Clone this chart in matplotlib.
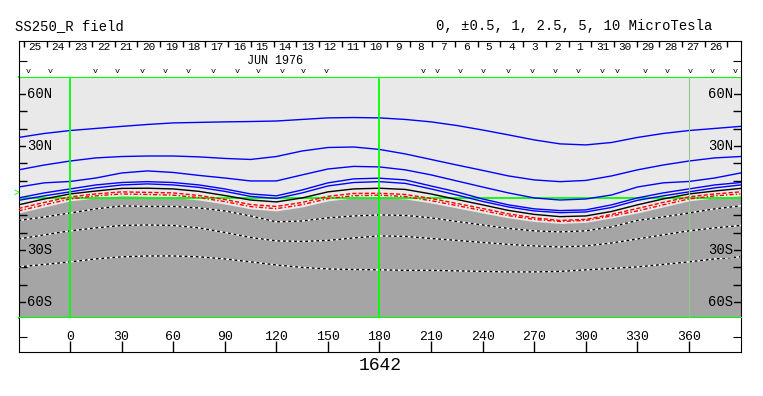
import numpy as np
import matplotlib
matplotlib.use('Agg')
import matplotlib.pyplot as plt

W, H = 763, 396
MONO = 'Liberation Mono'

LIGHT = '#e9e9e9'
DARK = '#a5a5a5'
GREEN = '#00ff00'

# Carrington longitude samples (deg), one full rotation
lon = np.arange(0, 360, 15)

# contour latitudes (deg), top to bottom
blue_1 = [38.9, 40.1, 41.3, 42.4, 43.3, 43.6, 43.9, 44.1, 44.4, 45.3, 46.2, 46.4,
          46.2, 45.3, 43.9, 41.8, 39.2, 36.4, 33.5, 31.2, 30.6, 32.0, 34.9, 37.2]
blue_2 = [21.3, 23.1, 23.9, 24.2, 24.2, 23.7, 22.8, 22.2, 23.9, 27.1, 29.1, 29.4,
          28.0, 25.4, 22.2, 19.0, 15.9, 12.7, 10.4, 9.4, 10.1, 12.7, 16.2, 19.0]
blue_3 = [9.5, 11.5, 14.4, 15.6, 14.7, 13.0, 11.5, 9.8, 9.8, 13.3, 16.7, 18.2,
          17.9, 16.2, 13.3, 9.8, 6.3, 2.9, 0.0, -1.2, -0.6, 1.7, 6.3, 8.7]
blue_4 = [5.2, 7.5, 8.9, 9.4, 8.9, 7.5, 5.2, 2.3, 1.2, 4.6, 8.7, 11.0,
          11.4, 10.4, 6.9, 3.5, -0.6, -4.0, -6.3, -7.3, -6.9, -4.0, 0.0, 2.9]
blue_5 = [3.5, 5.8, 7.5, 8.1, 7.5, 6.1, 3.8, 0.9, -0.3, 2.9, 6.9, 8.9,
          9.4, 8.4, 5.2, 1.7, -2.0, -5.2, -7.5, -8.5, -8.1, -5.5, -1.4, 1.2]
black_0 = [2.3, 4.0, 5.5, 5.6, 5.2, 3.8, 1.4, -1.2, -2.3, 0.0, 3.5, 5.2,
           5.6, 4.9, 2.3, -0.9, -4.0, -7.2, -9.5, -10.8, -10.4, -7.8, -4.0, -0.6]
red_1 = [0.6, 2.3, 3.5, 3.2, 2.9, 1.4, -0.9, -3.8, -4.9, -2.6, 0.9, 2.6,
         2.7, 2.0, -0.3, -3.2, -6.1, -9.2, -11.5, -13.0, -12.4, -9.5, -6.1, -2.6]
red_2 = [-0.6, 1.2, 2.3, 2.0, 1.6, 0.2, -2.1, -5.0, -6.2, -3.9, -0.4, 1.3,
         1.6, 0.8, -1.6, -4.4, -7.3, -10.2, -12.4, -13.6, -13.0, -10.4, -7.5, -4.0]
neutral = [-1.7, 0.0, 1.2, 0.9, 0.3, -1.2, -3.5, -6.3, -7.5, -5.2, -1.7, 0.0,
           0.2, -0.6, -2.9, -5.8, -8.7, -11.5, -13.6, -14.7, -14.1, -11.5, -8.7, -5.2]
neg_1 = [-8.7, -6.3, -4.6, -4.9, -4.9, -5.8, -7.5, -10.4, -13.8, -13.3, -11.5, -10.4,
         -9.8, -10.1, -11.5, -13.6, -15.6, -17.6, -19.0, -19.6, -19.0, -16.7, -13.0, -11.0]
neg_2 = [-19.0, -17.3, -15.9, -15.6, -15.9, -17.3, -19.9, -22.8, -24.8, -25.1, -24.5, -23.1,
         -21.9, -22.2, -23.4, -24.5, -25.7, -26.8, -27.7, -28.3, -27.7, -26.0, -23.7, -21.3]
neg_3 = [-36.9, -35.2, -34.0, -33.5, -33.5, -34.0, -35.2, -36.9, -38.7, -40.1, -41.0, -41.3,
         -41.5, -41.8, -41.8, -42.1, -42.4, -42.7, -42.7, -42.4, -41.5, -40.7, -39.8, -38.4]

# dates along the top (day of month at each 0 UT tick, time runs right to left)
day_labels = [25, 24, 23, 22, 21, 20, 19, 18, 17, 16, 15, 14, 13, 12, 11, 10,
              9, 8, 7, 6, 5, 4, 3, 2, 1, 31, 30, 29, 28, 27, 26]
first_day_lon = -26.8
deg_per_day = 360 / 27.2753

# longitudes of the "v" observation marks
obs_lon = [-24.4, -11.6, 14.5, 27.3, 41.7, 55.3, 68.6, 83.2, 97.0, 109.4, 123.2,
           135.5, 149.3, 205.4, 213.5, 226.9, 240.3, 254.8, 268.8, 282.1, 295.5,
           309.5, 318.2, 334.5, 347.3, 360.7, 373.5, 386.9]

xticks_lon = list(range(0, 361, 30))
lat_labels = {60: '60N', 30: '30N', -30: '30S', -60: '60S'}
rotation = '1642'


def wrap(v):
    v = np.asarray(v, dtype=float)
    return np.r_[v[-2:], v, v[:3]]


lon_w = np.r_[lon[-2:] - 360, lon, lon[:3] + 360]
XLIM = (-29.7, 390.3)

fig = plt.figure(figsize=(W / 100, H / 100), dpi=100)
fig.patch.set_facecolor('white')

# ---- main map
ax = fig.add_axes([19 / W, 1 - 318 / H, 722 / W, 241 / H])
ax.set_facecolor(LIGHT)
ax.set_xlim(*XLIM)
ax.set_ylim(-69.3, 69.8)
ax.fill_between(lon_w, -90, wrap(neutral), color=DARK, lw=0, zorder=1)
ax.axhline(0, color=GREEN, lw=1.3, zorder=2)

for line in [blue_1, blue_2, blue_3, blue_4, blue_5]:
    ax.plot(lon_w, wrap(line), color='#0000ff', lw=1.0, zorder=3)
ax.plot(lon_w, wrap(black_0), color='black', lw=1.0, zorder=3)
ax.plot(lon_w, wrap(red_1), color='red', lw=1.0, dashes=(3, 1.5), zorder=3)
ax.plot(lon_w, wrap(red_2), color='red', lw=1.0, dashes=(3, 1.5, 1, 1.5), zorder=3)
for line in [neg_1, neg_2, neg_3]:
    ax.plot(lon_w, wrap(line), color='white', lw=1.0, zorder=3)
    ax.plot(lon_w, wrap(line), color='black', lw=1.0, dashes=(2, 2), zorder=3)

ax.axvline(0, color=GREEN, lw=1.3, zorder=4)
ax.axvline(180, color=GREEN, lw=1.3, zorder=4)
ax.axvline(360, color='#90c890', lw=0.8, zorder=4)

ax.set_xticks([])
ax.set_yticks([v for v in range(-60, 61, 10) if v != 0])
ax.tick_params(axis='y', direction='in', length=6, width=1, left=True, right=True,
               labelleft=False, labelright=False)
for side in ['left', 'right']:
    ax.spines[side].set_color('black')
for side in ['top', 'bottom']:
    ax.spines[side].set_color(GREEN)
    ax.spines[side].set_linewidth(1.5)

for lat, txt in lat_labels.items():
    bg = LIGHT if lat > 0 else DARK
    ax.text(0.011, lat, txt, transform=ax.get_yaxis_transform(), ha='left', va='center',
            fontsize=10, family=MONO, zorder=5,
            bbox=dict(facecolor=bg, edgecolor='none', pad=0.5))
    ax.text(0.989, lat, txt, transform=ax.get_yaxis_transform(), ha='right', va='center',
            fontsize=10, family=MONO, zorder=5,
            bbox=dict(facecolor=bg, edgecolor='none', pad=0.5))

# ---- date strip on top
axt = fig.add_axes([19 / W, 1 - 77 / H, 722 / W, 36 / H])
axt.set_xlim(*XLIM)
axt.set_ylim(0, 1)
axt.set_xticks([])
axt.set_yticks([0.44])
axt.tick_params(axis='y', direction='in', length=6, left=True, right=True,
                labelleft=False)
axt.spines['bottom'].set_visible(False)
tick_lons = first_day_lon + deg_per_day * np.arange(len(day_labels) + 1)
axt.vlines(tick_lons, 0.83, 1.0, color='black', lw=1.0)
for i, d in enumerate(day_labels):
    axt.text(tick_lons[i] + deg_per_day / 2, 0.825, str(d), ha='center', va='center',
             fontsize=8, family=MONO)
axt.text(0.355, 0.456, 'JUN 1976', transform=axt.transAxes, ha='center', va='center',
         fontsize=8.5, family=MONO)
for lo in obs_lon:
    axt.text(lo, 0.142, 'v', ha='center', va='center', fontsize=6, family=MONO)

# ---- longitude strip below
axb = fig.add_axes([19 / W, 1 - 352 / H, 722 / W, 34 / H])
axb.set_xlim(*XLIM)
axb.set_ylim(0, 1)
axb.set_xticks(xticks_lon)
axb.set_xticklabels([])
axb.tick_params(axis='x', direction='in', length=8, width=1)
axb.set_yticks([0.44])
axb.tick_params(axis='y', direction='in', length=6, left=True, right=True,
                labelleft=False)
axb.spines['top'].set_visible(False)
for lo in xticks_lon:
    axb.text(lo, 0.44, str(lo), ha='center', va='center', fontsize=9.5, family=MONO)

# ---- titles
fig.text(15 / W, 1 - 26 / H, 'SS250_R field', ha='left', va='center',
         fontsize=10, family=MONO)
fig.text(712 / W, 1 - 26 / H, '0, ±0.5, 1, 2.5, 5, 10 MicroTesla', ha='right',
         va='center', fontsize=10, family=MONO)
fig.text(380 / W, 1 - 366 / H, rotation, ha='center', va='center', fontsize=13,
         family=MONO)
fig.text(19 / W, 1 - 193 / H, '>', ha='right', va='center', fontsize=7,
         color=GREEN, family=MONO)

fig.savefig('out.png', dpi=100)
